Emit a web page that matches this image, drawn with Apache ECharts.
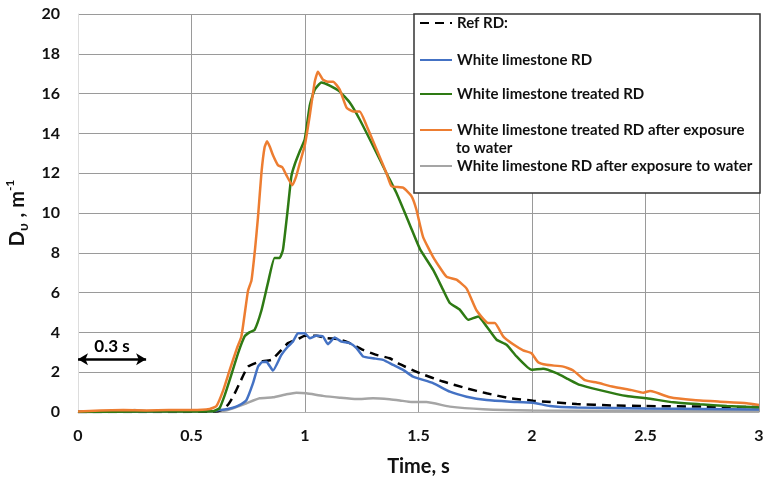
<!DOCTYPE html>
<html>
<head>
<meta charset="utf-8">
<title>Dv vs time</title>
<style>
  html, body { margin: 0; padding: 0; background: #fff; }
  #chart { width: 765px; height: 482px; }
</style>
</head>
<body>
<div id="chart"></div>
<script src="https://cdn.jsdelivr.net/npm/echarts@6/dist/echarts.min.js"></script>
<script>
// [time s, Dv m-1]
var refRD = [[0, 0], [0.3, 0], [0.6, 0.02], [0.63, 0.1], [0.66, 0.35], [0.683, 0.77], [0.712, 1.45], [0.749, 2.28],
  [0.8, 2.53], [0.852, 2.62], [0.896, 3.12], [0.925, 3.46], [0.969, 3.66], [0.999, 3.83], [1.05, 3.83], [1.094, 3.71],
  [1.146, 3.66], [1.197, 3.46], [1.256, 3.12], [1.315, 2.87], [1.373, 2.7], [1.418, 2.4], [1.506, 1.95], [1.608, 1.53],
  [1.712, 1.19], [1.8, 0.94], [1.903, 0.69], [2.005, 0.57], [2.197, 0.4], [2.35, 0.33], [2.5, 0.3], [2.75, 0.27], [3.0, 0.25]];

var whiteRD = [[0, 0], [0.3, 0.02], [0.6, 0.05], [0.624, 0.1], [0.66, 0.15], [0.697, 0.27], [0.72, 0.4], [0.742, 0.6],
  [0.771, 1.45], [0.793, 2.28], [0.81, 2.5], [0.83, 2.53], [0.845, 2.3], [0.859, 2.08], [0.896, 2.87], [0.925, 3.29],
  [0.947, 3.54], [0.969, 3.96], [0.999, 3.96], [1.021, 3.71], [1.05, 3.83], [1.079, 3.79], [1.101, 3.41], [1.131, 3.74],
  [1.16, 3.54], [1.197, 3.46], [1.227, 3.21], [1.256, 2.79], [1.3, 2.7], [1.344, 2.62], [1.388, 2.37], [1.432, 2.12],
  [1.476, 1.78], [1.564, 1.45], [1.638, 1.02], [1.712, 0.77], [1.8, 0.6], [1.903, 0.52], [2.005, 0.47], [2.079, 0.3],
  [2.197, 0.22], [2.35, 0.2], [2.5, 0.17], [2.75, 0.15], [3.0, 0.13]];

var treatedRD = [[0, 0], [0.3, 0.02], [0.55, 0.03], [0.6, 0.05], [0.624, 0.2], [0.645, 0.8], [0.668, 1.6], [0.705, 2.95],
  [0.734, 3.8], [0.755, 4.0], [0.778, 4.13], [0.808, 5.1], [0.837, 6.5], [0.866, 7.74], [0.888, 7.74], [0.903, 8.16],
  [0.925, 10.3], [0.94, 11.85], [0.955, 12.45], [0.977, 13.1], [0.999, 13.7], [1.021, 15.4], [1.043, 16.2], [1.072, 16.56],
  [1.109, 16.4], [1.153, 16.1], [1.197, 15.55], [1.241, 14.7], [1.3, 13.37], [1.359, 12.0], [1.403, 11.0], [1.462, 9.4],
  [1.506, 8.2], [1.564, 7.15], [1.608, 6.15], [1.638, 5.48], [1.682, 5.14], [1.719, 4.63], [1.763, 4.8], [1.8, 4.3],
  [1.844, 3.63], [1.888, 3.38], [1.932, 2.79], [1.998, 2.12], [2.049, 2.17], [2.108, 1.95], [2.16, 1.65], [2.211, 1.36],
  [2.299, 1.1], [2.417, 0.8], [2.505, 0.69], [2.623, 0.49], [2.74, 0.39], [2.858, 0.3], [3.0, 0.24]];

var treatedWaterRD = [[0, 0.02], [0.1, 0.08], [0.2, 0.1], [0.3, 0.08], [0.4, 0.1], [0.5, 0.1], [0.58, 0.15], [0.61, 0.3],
  [0.64, 1.1], [0.668, 2.1], [0.7, 3.2], [0.72, 3.8], [0.749, 6.1], [0.764, 6.6], [0.78, 8.2], [0.793, 9.8], [0.808, 12.0],
  [0.822, 13.3], [0.833, 13.6], [0.846, 13.3], [0.859, 12.9], [0.881, 12.4], [0.9, 12.3], [0.918, 11.9], [0.944, 11.4],
  [0.96, 11.8], [0.977, 12.5], [0.999, 13.4], [1.021, 14.9], [1.043, 16.6], [1.057, 17.1], [1.079, 16.7], [1.1, 16.6],
  [1.124, 16.6], [1.153, 16.2], [1.183, 15.3], [1.212, 15.1], [1.241, 15.1], [1.271, 14.4], [1.315, 13.2], [1.359, 12.0],
  [1.381, 11.35], [1.432, 11.27], [1.469, 10.85], [1.49, 10.2], [1.52, 8.8], [1.564, 7.8], [1.623, 6.8], [1.667, 6.65],
  [1.712, 6.2], [1.756, 5.1], [1.807, 4.47], [1.836, 4.47], [1.873, 3.8], [1.917, 3.4], [1.961, 3.1], [1.998, 2.95],
  [2.027, 2.5], [2.064, 2.37], [2.138, 2.28], [2.18, 2.1], [2.233, 1.6], [2.285, 1.48], [2.358, 1.27], [2.439, 1.1],
  [2.49, 0.97], [2.52, 1.06], [2.542, 1.0], [2.608, 0.74], [2.711, 0.6], [2.828, 0.52], [2.946, 0.44], [3.0, 0.35]];

var whiteWaterRD = [[0, 0], [0.2, 0.03], [0.25, 0.1], [0.3, 0.05], [0.6, 0.03], [0.65, 0.08], [0.683, 0.19], [0.742, 0.44],
  [0.8, 0.69], [0.859, 0.74], [0.918, 0.89], [0.962, 0.97], [1.006, 0.94], [1.079, 0.81], [1.153, 0.72], [1.227, 0.65],
  [1.3, 0.69], [1.373, 0.64], [1.418, 0.58], [1.47, 0.5], [1.535, 0.5], [1.638, 0.27], [1.785, 0.14], [2.0, 0.08],
  [2.5, 0.05], [3.0, 0.04]];

var seriesNames = ['Ref RD:', 'White limestone RD', 'White limestone treated RD',
  'White limestone treated RD after exposure to water', 'White limestone RD after exposure to water'];
var seriesColors = ['#000000', '#4472c4', '#2e7a14', '#ed7d31', '#a5a5a5'];
var legendTops = [23, 60, 94, 130, 166];   // centre line of each legend row
var arrowSpan = [[0, 2.65], [0.3, 2.65]];  // "0.3 s" scale arrow

var FONT = 'Lato';
var chart = echarts.init(document.getElementById('chart'));

var legends = seriesNames.map(function (n, i) {
  return {
    data: [n],
    left: 419,
    top: legendTops[i] - 9,
    padding: 0,
    itemWidth: 32,
    itemHeight: 10,
    selectedMode: false,
    z: 30,
    itemStyle: { opacity: 0 },
    textStyle: { fontFamily: FONT, fontWeight: 'bold', fontSize: 15, color: '#111', lineHeight: 18 },
    formatter: function (name) {
      return name == seriesNames[3] ? 'White limestone treated RD after exposure' : name;
    }
  };
});

var series = seriesNames.map(function (n, i) {
  return {
    name: n,
    type: 'line',
    data: [refRD, whiteRD, treatedRD, treatedWaterRD, whiteWaterRD][i],
    symbol: 'none',
    smooth: 0.15,
    color: seriesColors[i],
    lineStyle: { width: 2.5, color: seriesColors[i], type: i == 0 ? [9, 6] : 'solid' },
    z: [3, 4, 5, 6, 2][i]
  };
});

series[0].markLine = {
  silent: true,
  symbol: ['arrow', 'arrow'],
  symbolSize: [9, 10],
  lineStyle: { color: '#000', width: 2.5, type: 'solid' },
  label: {
    show: true,
    formatter: '0.3 s',
    position: 'insideMiddleTop',
    distance: 4,
    fontFamily: FONT, fontWeight: 'bold', fontSize: 17, color: '#000'
  },
  data: [[{ coord: arrowSpan[0] }, { coord: arrowSpan[1] }]]
};

var option = {
  animation: false,
  backgroundColor: '#fff',
  grid: { left: 78, right: 6, top: 14, bottom: 70, outerBoundsMode: 'none', containLabel: false },
  xAxis: {
    type: 'value',
    min: 0, max: 3, interval: 0.5,
    name: 'Time, s',
    nameLocation: 'middle',
    nameGap: 45,
    nameTextStyle: { fontFamily: FONT, fontWeight: 'bold', fontSize: 20, color: '#111' },
    axisLine: { lineStyle: { color: '#b0b0b0' } },
    axisTick: { show: false },
    axisLabel: { fontFamily: FONT, fontWeight: 'bold', fontSize: 16, color: '#111', margin: 16 },
    splitLine: { show: true, lineStyle: { color: '#9a9a9a', width: 1 } }
  },
  yAxis: {
    type: 'value',
    min: 0, max: 20, interval: 2,
    name: '{b|D}{s|υ}{b| , m}{p|-1}',
    nameLocation: 'middle',
    nameGap: 37,
    nameTextStyle: {
      rich: {
        b: { fontFamily: FONT, fontWeight: 'bold', fontSize: 20, color: '#111', lineHeight: 26 },
        s: { fontFamily: FONT, fontWeight: 'bold', fontSize: 14, color: '#111', lineHeight: 26, verticalAlign: 'bottom', padding: [0, 1, 0, 0] },
        p: { fontFamily: FONT, fontWeight: 'bold', fontSize: 12, color: '#111', lineHeight: 26, verticalAlign: 'top' }
      }
    },
    axisLine: { show: true, lineStyle: { color: '#dddddd' } },
    axisTick: { show: false },
    axisLabel: { fontFamily: FONT, fontWeight: 'bold', fontSize: 16, color: '#111', margin: 18 },
    splitLine: { show: true, lineStyle: { color: '#9a9a9a', width: 1 } }
  },
  legend: legends,
  graphic: [
    {
      type: 'rect', z: 20,
      shape: { x: 414, y: 14, width: 346, height: 179 },
      style: { fill: '#fff', stroke: '#333', lineWidth: 1.5 }
    },
    {
      type: 'text', z: 30, left: 456, top: 141,
      style: { text: 'to water', fontFamily: FONT, fontWeight: 'bold', fontSize: 15, fill: '#111' }
    }
  ],
  series: series
};

chart.setOption(option);
window.onresize = function () { chart.resize(); };
</script>
</body>
</html>
